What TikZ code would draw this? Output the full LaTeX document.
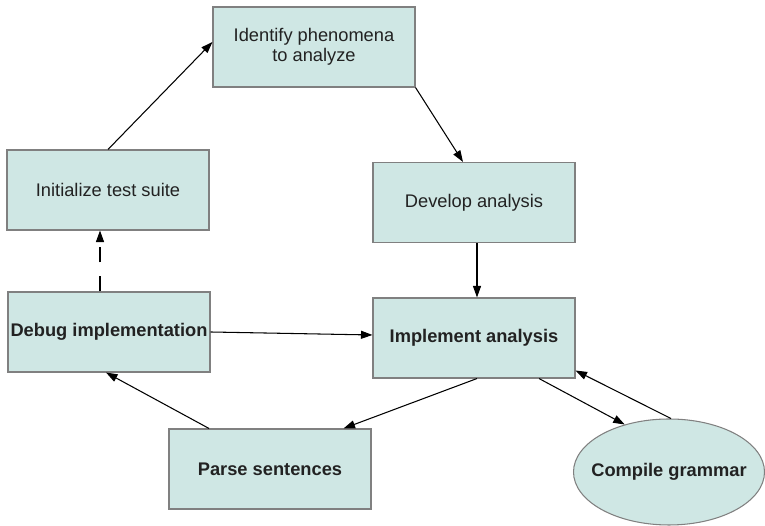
\documentclass[tikz,border=0pt]{standalone}
\usepackage{fontspec}
\setmainfont{Liberation Sans}
\usetikzlibrary{arrows.meta,shapes.geometric}
\definecolor{boxfill}{HTML}{CFE7E4}
\definecolor{boxline}{HTML}{808080}
\definecolor{boxtext}{HTML}{222222}
\begin{document}
\begin{tikzpicture}[
    procbox/.style={rectangle, draw=boxline, fill=boxfill, line width=0.6pt, minimum width=4.04cm, minimum height=1.6cm, inner sep=0pt, align=center, text=boxtext, font=\fontsize{10.4}{11.6}\selectfont},
    procell/.style={ellipse, draw=boxline, fill=boxfill, line width=0.6pt, minimum width=3.82cm, minimum height=2.12cm, inner xsep=-0.4cm, inner ysep=0pt, text=boxtext, font=\fontsize{10.4}{11.6}\selectfont\bfseries},
    boldtext/.style={font=\fontsize{10.4}{11.6}\selectfont\bfseries},
    flowedge/.style={-{Triangle[length=2.3mm,width=1.6mm]}, line width=0.6pt}
]
    \useasboundingbox (0,0) rectangle (15.3,10.52);

    % process steps
    \node[procbox] (ident) at (6.28, 9.58) {Identify phenomena\\to analyze};
    \node[procbox] (init) at (2.16, 6.72) {Initialize test suite};
    \node[procbox] (devel) at (9.48, 6.47) {Develop analysis};
    \node[procbox, boldtext] (debug) at (2.18, 3.88) {Debug implementation};
    \node[procbox, boldtext] (impl) at (9.48, 3.76) {Implement analysis};
    \node[procbox, boldtext] (parse) at (5.40, 1.14) {Parse sentences};
    \node[procell] (compile) at (13.38, 1.08) {Compile grammar};

    % cycle
    \draw[flowedge] (init.north) -- ([yshift=0.1cm]ident.west);
    \draw[flowedge] (ident.south east) -- ([xshift=-0.22cm]devel.north);
    \draw[flowedge] ([xshift=0.06cm]devel.south) -- ([xshift=0.06cm]impl.north);
    \draw[flowedge] (debug.east) -- ([yshift=0.06cm]impl.west);
    \draw[flowedge] ([xshift=0.06cm]impl.south) -- ([xshift=-0.56cm]parse.north east);
    \draw[flowedge] ([xshift=-1.22cm]parse.north) -- ([xshift=-0.06cm]debug.south);
    \draw[flowedge, dash pattern=on 0.3cm off 0.28cm] ([xshift=-0.18cm]debug.north) -- ([xshift=-0.16cm]init.south);

    % compile loop
    \draw[flowedge] ([xshift=1.3cm]impl.south) -- (compile.133);
    \draw[flowedge] (compile.88) -- ([yshift=0.16cm]impl.south east);
\end{tikzpicture}
\end{document}
